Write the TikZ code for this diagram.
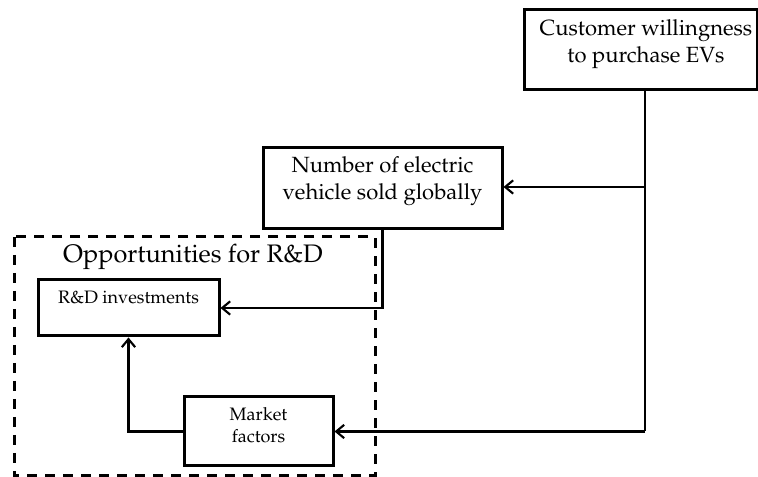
\documentclass[tikz,border=0pt]{standalone}
\usepackage[T1]{fontenc}
\renewcommand{\rmdefault}{ppl}
\usetikzlibrary{arrows.meta}
\begin{document}
\begin{tikzpicture}[x=0.75pt,y=-0.75pt,
  box/.style={draw=black,line width=2.25pt,fill=white,inner sep=0pt},
  txt/.style={align=center,inner sep=0pt,text=black},
  link/.style={draw=black,line width=1.6pt,-{Straight Barb[length=6pt,width=10pt,line width=1.6pt]}},
  plain/.style={draw=black,line width=1.6pt},
  group/.style={draw=black,line width=2.25pt,dash pattern=on 7.5pt off 6pt}]
\useasboundingbox (0,0) rectangle (758,477);

% dashed research-and-development area
\draw[group] (14,237) rectangle (375,476);
\node[txt,font=\fontsize{19}{22}\selectfont] (opp) at (193,257) {Opportunities for R\&D};

% boxes
\node[box,minimum width=233*0.75pt,minimum height=80*0.75pt] (cust) at (640.5,50) {};
\node[txt,font=\fontsize{16.5}{20.2}\selectfont] (custtxt) at (646,44.5) {Customer willingness\\to purchase EVs};

\node[box,minimum width=239*0.75pt,minimum height=81*0.75pt] (num) at (382.5,188.5) {};
\node[txt,font=\fontsize{16.5}{20.2}\selectfont] (numtxt) at (382.5,181.5) {Number of electric\\vehicle sold globally};

\node[box,minimum width=181*0.75pt,minimum height=56*0.75pt] (rd) at (128.5,308) {};
\node[txt,font=\fontsize{13.5}{16}\selectfont] (rdtxt) at (128.5,297) {R\&D investments};

\node[box,minimum width=149*0.75pt,minimum height=69*0.75pt] (mkt) at (258.5,431.5) {};
\node[txt,font=\fontsize{13.5}{16.5}\selectfont] (mkttxt) at (258.5,425) {Market\\factors};

% connectors
\coordinate (trunk) at (645,431.5);
\coordinate (branch) at (645,187);
\draw[plain] (cust.south -| trunk) -- (trunk);
\draw[link] (trunk) -- (mkt.east);
\draw[link] (branch) -- (branch -| num.east);
\draw[link] (num.south) |- (rd.east);
\draw[link] (mkt.west) -| (rd.south);
\end{tikzpicture}
\end{document}
